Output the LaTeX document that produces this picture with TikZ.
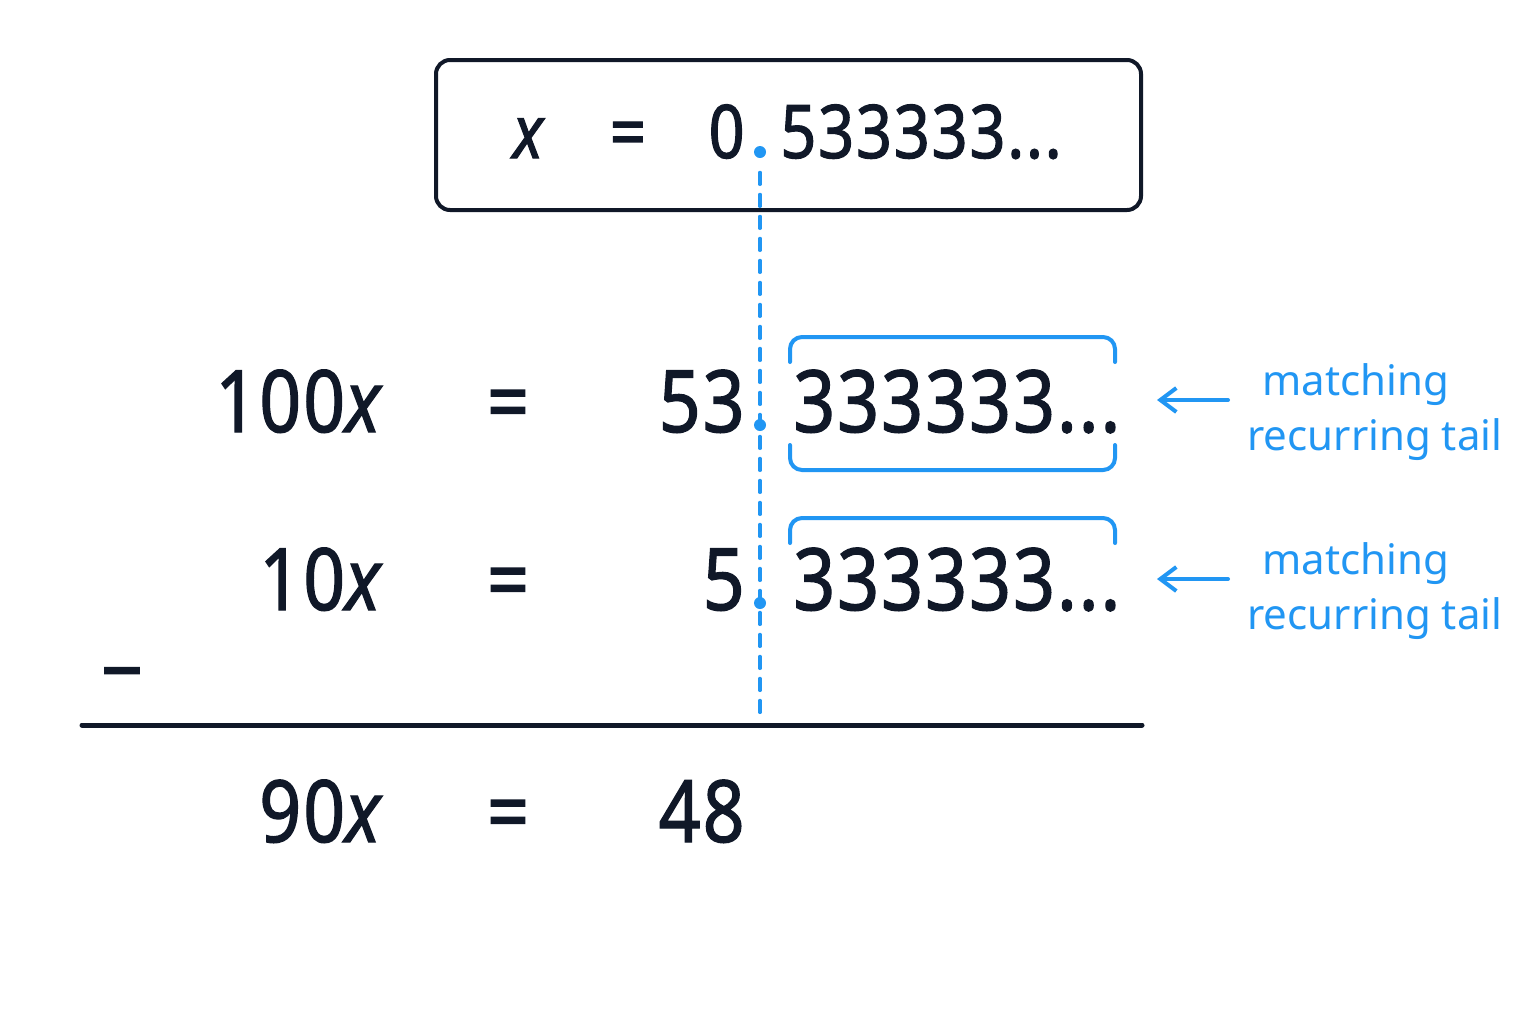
\documentclass[tikz,border=0pt]{standalone}
\usepackage{fontspec}
\setmainfont{Noto Sans}
\newfontfamily\numfont[FakeStretch=0.85, LetterSpace=2.5, FakeBold=1.5]{Noto Sans}
\usetikzlibrary{arrows.meta}
\definecolor{ink}{HTML}{101828}
\definecolor{tailblue}{HTML}{2196F3}
\tikzset{
  big/.style={inner sep=0pt, text=ink, font=\numfont\fontsize{43}{50}\selectfont},
  boxed/.style={inner sep=0pt, text=ink, font=\numfont\fontsize{37}{42}\selectfont},
  dotmark/.style={circle, fill=tailblue, inner sep=0pt, minimum size=6pt},
  bracket/.style={draw=tailblue, line width=2pt, rounded corners=6pt, line cap=round},
  note/.style={text=tailblue, font=\fontsize{21}{27.5}\selectfont, align=left, inner sep=0pt},
  pointer/.style={draw=tailblue, line width=2pt, line cap=round, -{Straight Barb[length=8pt, width=12pt]}}
}
\begin{document}
\begin{tikzpicture}[x=0.5pt, y=-0.5pt]
\useasboundingbox[fill=white] (0,0) rectangle (1536,1024);

%Ausgangszahl
\draw[ink, line width=2pt, rounded corners=7pt] (436,60) rectangle (1141,210);
\node[boxed, anchor=base] (bx) at (528,158) {\itshape x};
\node[boxed, anchor=base] (beq) at (628,158) {=};
\node[boxed, anchor=base east] (bint) at (745,158) {0};
\node[boxed, anchor=base west] (btail) at (780,158) {533333...};
\node[dotmark] (d0) at (760,152) {};

%Zeilen
\foreach \n/\y/\lhs/\rhs in {1/432/100/53, 2/610/10/5, 3/842/90/48} {
\node[big, anchor=base east] (lhs\n) at (385,\y) {\lhs\textit{x}};
\node[big, anchor=base] (eq\n) at (508,\y) {=};
\node[big, anchor=base east] (rhs\n) at (745,\y) {\rhs};
}
\foreach \n/\y in {1/432, 2/610} {
\node[big, anchor=base west] (tail\n) at (793,\y) {333333...};
}

%Klammern
\draw[bracket] (790,362) |- (1115,337) -- (1115,362);
\draw[bracket] (790,445) |- (1115,470) -- (1115,445);
\draw[bracket] (790,543) |- (1115,518) -- (1115,543);

%Hinweise
\foreach \n/\y in {1/400, 2/579} {
\coordinate (from\n) at (1228,\y);
\coordinate (to\n) at (1157,\y);
\draw[pointer] (from\n) -- (to\n);
\node[note, anchor=west] (note\n) at (1247,\y+12) {\hspace*{7.5pt}matching\\recurring tail};
}

%Subtraktion
\node[big, anchor=base] (minus) at (122,701) {−};
\coordinate (ruleL) at (82,725);
\coordinate (ruleR) at (1142,725);
\coordinate (foot) at (760,722);
\draw[tailblue, line width=1.6pt, line cap=round, dash pattern=on 6pt off 5pt] ([yshift=-7pt]d0.south) -- (foot);
\draw[ink, line width=2.5pt, line cap=round] (ruleL) -- (ruleR);
\node[dotmark] (d1) at (760,425) {};
\node[dotmark] (d2) at (760,603) {};
\end{tikzpicture}
\end{document}
